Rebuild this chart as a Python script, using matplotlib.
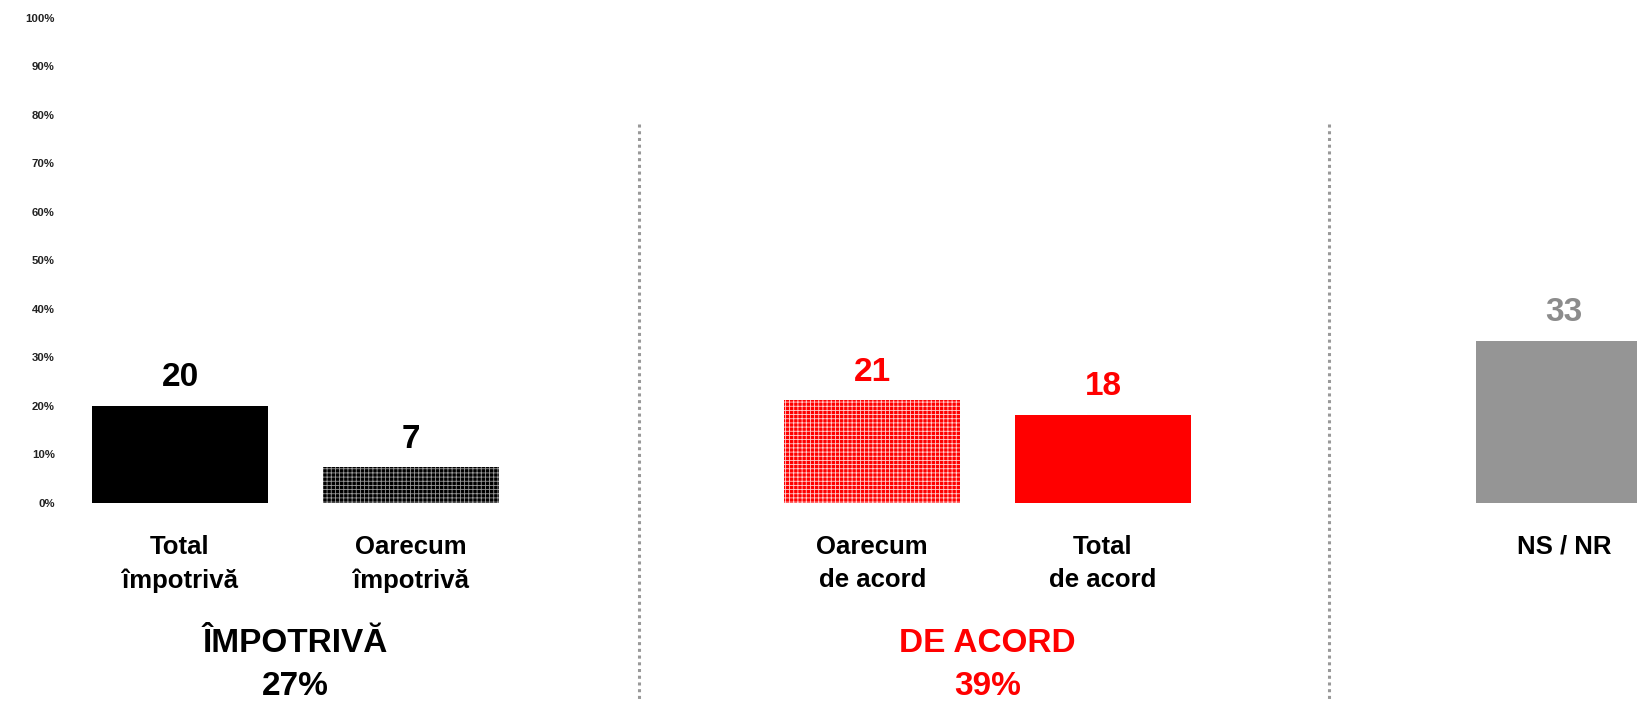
import matplotlib.pyplot as plt
from matplotlib.ticker import PercentFormatter

plt.rcParams['font.family'] = ['Liberation Sans', 'DejaVu Sans']
plt.rcParams['hatch.linewidth'] = 0.6

# data
categories = ['Total\nîmpotrivă', 'Oarecum\nîmpotrivă', 'Oarecum\nde acord', 'Total\nde acord', 'NS / NR']
values = [20, 7.4, 21.2, 18.2, 33.4]
slots = [0, 1, 3, 4, 6]
groups = ['ÎMPOTRIVĂ', 'DE ACORD']
group_totals = ['27%', '39%']
group_pos = [0.5, 3.5]
dividers = [1.99, 4.98]

bar_colors = ['black', 'black', '#ff0000', '#ff0000', '#959595']
hatches = [None, '++++', '++++', None, None]
hatch_colors = [None, '#9a9a9a', '#ffd0d0', None, None]
label_colors = ['black', 'black', '#ff0000', '#ff0000', '#8c8c8c']
group_colors = ['black', '#ff0000']

fig = plt.figure(figsize=(16.37, 7.02), dpi=100)
ax = fig.add_axes([0.0415, 0.2835, 1 - 0.0415, 0.6913])

for x, v, c, h, hc, lc in zip(slots, values, bar_colors, hatches, hatch_colors, label_colors):
    if h:
        ax.bar(x, v, width=0.765, facecolor=c, hatch=h, edgecolor=hc, linewidth=0)
    else:
        ax.bar(x, v, width=0.765, facecolor=c, linewidth=0)
    ax.annotate(f'{round(v)}', (x, v), xytext=(0, 14), textcoords='offset points',
                ha='center', va='baseline', fontsize=24, fontweight='bold', color=lc)

for x, cat in zip(slots, categories):
    ax.text(x, -6.5, cat, ha='center', va='top', fontsize=18.5, fontweight='bold',
            linespacing=1.5, clip_on=False)

for x, g, t, c in zip(group_pos, groups, group_totals, group_colors):
    ax.text(x, -28.9, g, ha='center', va='center', fontsize=24, fontweight='bold', color=c, clip_on=False)
    ax.text(x, -37.9, t, ha='center', va='center', fontsize=24, fontweight='bold', color=c, clip_on=False)

for d in dividers:
    ax.plot([d, d], [78, -42], color='#999999', lw=2.2, linestyle=(0, (1, 1.2)),
            dash_capstyle='butt', clip_on=False)

ax.set_xlim(-0.486, 6.315)
ax.set_ylim(0, 100)
ax.set_yticks(range(0, 101, 10))
ax.yaxis.set_major_formatter(PercentFormatter(decimals=0))
ax.tick_params(axis='y', length=0, pad=9.5, labelsize=8.2, labelcolor='#222222')
for lbl in ax.get_yticklabels():
    lbl.set_fontweight('bold')
ax.set_xticks([])
for s in ax.spines.values():
    s.set_visible(False)

fig.savefig('out.png', dpi=100)
